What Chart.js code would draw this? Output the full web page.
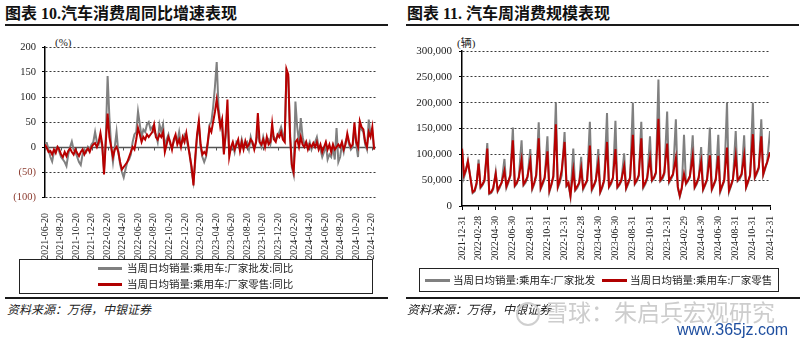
<!DOCTYPE html>
<html><head><meta charset="utf-8">
<script src="https://cdn.jsdelivr.net/npm/chart.js@4.4.1/dist/chart.umd.min.js"></script>
<style>
html,body{margin:0;padding:0;background:#fff;}
body{width:800px;height:341px;position:relative;overflow:hidden;}
.abs{position:absolute;white-space:nowrap;}
.title{font-family:"Liberation Serif","Noto Sans CJK SC",serif;font-weight:700;font-size:16px;color:#111;top:4px;line-height:20px;}
.rule{position:absolute;background:#1a1a1a;}
.legbox{position:absolute;border:1px solid #222;box-sizing:border-box;}
.legtxt{position:absolute;white-space:nowrap;font-family:"Noto Sans CJK SC",sans-serif;font-size:10.5px;color:#222;line-height:12px;}
.sw{position:absolute;height:3px;}
.src{position:absolute;white-space:nowrap;font-family:"Noto Sans CJK SC",sans-serif;font-style:italic;font-size:12px;color:#222;line-height:14px;}
.unit{position:absolute;white-space:nowrap;font-family:"Liberation Serif","Noto Sans CJK SC",serif;font-size:11px;color:#222;line-height:12px;}
canvas{position:absolute;}
</style></head><body>

<div class="abs title" style="left:5px;">图表 10.汽车消费周同比增速表现</div>
<div class="abs title" style="left:407px;">图表 11. 汽车周消费规模表现</div>
<div class="rule" style="left:5px;top:24px;width:383px;height:2px;"></div>
<div class="rule" style="left:406px;top:24px;width:393px;height:2px;"></div>
<div class="unit" style="left:55px;top:36px;">(%)</div>
<div class="unit" style="left:457px;top:37px;">(辆)</div>

<canvas id="c1" width="392" height="232" style="left:0px;top:30px;"></canvas>
<canvas id="c2" width="392" height="240" style="left:400px;top:30px;"></canvas>

<div class="legbox" style="left:19px;top:259px;width:354px;height:35px;"></div>
<div class="sw" style="left:98px;top:267px;width:24px;background:#808080;"></div>
<div class="legtxt" style="left:127px;top:262px;">当周日均销量:乘用车:厂家批发:同比</div>
<div class="sw" style="left:98px;top:283px;width:24px;background:#b00000;"></div>
<div class="legtxt" style="left:127px;top:278px;">当周日均销量:乘用车:厂家零售:同比</div>

<div class="legbox" style="left:419px;top:268px;width:360px;height:24px;"></div>
<div class="sw" style="left:425px;top:279px;width:25px;background:#808080;"></div>
<div class="legtxt" style="left:453px;top:274px;">当周日均销量:乘用车:厂家批发</div>
<div class="sw" style="left:602px;top:279px;width:25px;background:#b00000;"></div>
<div class="legtxt" style="left:630px;top:274px;">当周日均销量:乘用车:厂家零售</div>

<div class="rule" style="left:5px;top:297px;width:383px;height:1.5px;"></div>
<div class="rule" style="left:406px;top:297px;width:394px;height:1.5px;"></div>
<div class="src" style="left:7px;top:302px;">资料来源：万得，中银证券</div>
<div class="src" style="left:407px;top:302px;">资料来源：万得，中银证券</div>

<div class="abs" style="left:516px;top:302px;width:20px;height:20px;border:2px solid #cfcfcf;border-radius:50%;"></div>
<div class="abs" style="left:545px;top:297px;font-family:'Noto Sans CJK SC',sans-serif;font-size:23px;line-height:28px;color:#cdcdcd;">雪球：朱启兵宏观研究</div>
<div class="abs" style="left:677px;top:321px;font-family:'Liberation Sans',sans-serif;font-size:16px;line-height:18px;color:#1f4fa0;">www.365jz.com</div>

<script>
// ---------- Left chart: weekly YoY (%) ----------
const leftFirstWeek = '2021-06-20';   // weekly observations, 7 days apart
const leftRetailYoY = [
 5,-2,-10,-8,-15,-5,-12,0,-5,-15,
 -20,-10,-18,-8,-3,-10,-15,-5,-12,-18,
 -10,-5,-15,-8,-3,-10,0,5,8,0,
 10,28,5,-55,10,67,20,0,-20,-5,
 0,-10,-30,-45,-40,-35,-30,-20,-10,0,
 -5,15,38,25,10,20,15,25,20,25,
 30,45,20,15,25,20,30,-10,5,20,
 10,-5,15,25,5,15,0,20,10,28,
 5,-20,-40,-77,-20,25,52,5,-15,-10,
 -15,10,38,30,50,70,95,68,40,55,
 -15,30,95,-20,0,10,-5,5,15,-8,
 10,-5,12,0,5,15,10,-5,10,68,
 10,5,15,0,20,5,10,47,15,10,
 25,20,30,15,10,156,145,20,-35,-50,
 10,15,0,20,5,0,10,-5,5,0,
 8,0,10,-5,5,-10,0,10,-5,5,
 -10,5,-5,0,5,0,10,-5,5,27,
 10,0,5,49,10,0,52,40,35,10,
 0,30,20,40,-5];
const leftWholesaleYoY = [
 8,8,-5,-20,-29,-10,-5,0,-10,-20,
 -25,-30,-38,-15,0,11,-5,-10,-20,-30,
 -36,-15,-5,-10,0,-5,5,10,30,10,
 5,20,0,-45,20,142,60,0,-30,0,
 30,-10,-35,-50,-61,-45,-30,-25,-15,10,
 25,30,71,45,20,35,30,45,50,35,
 40,30,25,10,45,30,45,0,15,25,
 5,0,10,20,10,30,5,10,25,20,
 0,-15,-50,-70,-30,20,45,0,-20,-30,
 -20,5,45,50,80,120,170,80,50,40,
 -10,20,60,-10,-5,5,-10,10,5,-5,
 15,0,5,10,-5,20,5,0,10,30,
 10,0,20,5,10,15,5,25,20,15,
 20,30,40,25,15,150,140,30,-40,-55,
 91,40,10,58,20,5,10,0,10,-5,
 5,10,20,0,-5,-20,-10,5,-25,-15,
 -20,0,-25,38,-30,-20,5,-10,10,20,
 5,-5,0,40,5,-20,45,35,30,5,
 -5,55,25,30,-5];
const leftTickLabels = ['2021-06-20','2021-08-20','2021-10-20','2021-12-20','2022-02-20','2022-04-20',
 '2022-06-20','2022-08-20','2022-10-20','2022-12-20','2023-02-20','2023-04-20','2023-06-20',
 '2023-08-20','2023-10-20','2023-12-20','2024-02-20','2024-04-20','2024-06-20','2024-08-20',
 '2024-10-20','2024-12-20'];
const leftYTicks = [-100,-50,0,50,100,150,200];

// ---------- Right chart: weekly average daily volume (units) ----------
const rightFirstDate = '2021-12-31';
const rightYears = [2022, 2023, 2024];
const rightPeriodDays = [7, 14, 21, 'end'];   // four periods per month
const rightRetail = [
 111000,
 60000,70000,86000,50000,   27000,30000,45000,82000,   37000,42000,50000,111000,
 25000,27000,35000,62000,   30000,38000,45000,68000,   38000,48000,60000,127000,
 40000,45000,55000,89000,   42000,48000,57000,87000,   35000,45000,60000,131000,
 35000,45000,55000,106000,  30000,42000,58000,158000,  38000,50000,70000,124000,
 40000,45000,20000,69000,   32000,38000,45000,72000,   35000,42000,50000,117000,
 33000,40000,50000,83000,   28000,38000,50000,124000,  38000,45000,55000,110000,
 37000,42000,50000,77000,   35000,45000,55000,138000,  44000,50000,60000,131000,
 38000,45000,55000,93000,   50000,55000,65000,169000,  50000,55000,65000,121000,
 48000,55000,62000,93000,   37000,20000,35000,62000,   44000,50000,58000,97000,
 37000,45000,55000,85000,   33000,42000,52000,98000,   33000,42000,52000,97000,
 30000,40000,50000,113000,  30000,40000,52000,97000,   50000,55000,62000,97000,
 37000,48000,60000,139000,  56000,65000,75000,135000,  62000,75000,85000,104000];
const rightWholesale = [
 115000,
 55000,68000,88000,52000,   25000,28000,42000,90000,   35000,40000,48000,122000,
 23000,25000,32000,66000,   28000,35000,45000,91000,   35000,45000,58000,152000,
 38000,43000,55000,127000,  40000,45000,55000,110000,  32000,42000,58000,162000,
 33000,42000,52000,135000,  27000,40000,55000,200000,  35000,45000,60000,143000,
 38000,42000,18000,111000,  30000,35000,43000,95000,   32000,40000,48000,163000,
 30000,38000,48000,110000,  26000,35000,48000,180000,  36000,42000,52000,165000,
 35000,40000,48000,102000,  33000,42000,52000,200000,  42000,48000,58000,163000,
 35000,42000,52000,135000,  48000,53000,63000,245000,  48000,52000,62000,183000,
 45000,52000,60000,168000,  35000,18000,33000,138000,  42000,48000,55000,137000,
 35000,42000,52000,114000,  31000,40000,50000,152000,  31000,40000,50000,138000,
 27000,38000,48000,200000,  27000,38000,50000,145000,  48000,52000,60000,137000,
 35000,45000,58000,200000,  54000,62000,72000,168000,  60000,72000,85000,145000];
const rightTickLabels = ['2021-12-31','2022-02-28','2022-04-30','2022-06-30','2022-08-31','2022-10-31',
 '2022-12-31','2023-02-28','2023-04-30','2023-06-30','2023-08-31','2023-10-31','2023-12-31',
 '2024-02-29','2024-04-30','2024-06-30','2024-08-31','2024-10-31','2024-12-31'];

// ---------- helpers ----------
const DAY = 864e5;
const dayNum = s => { const [y,m,d] = s.split('-').map(Number); return Date.UTC(y, m-1, d) / DAY; };
const fmtDay = n => new Date(Math.round(n) * DAY).toISOString().slice(0, 10);

const leftX = leftRetailYoY.map((_, i) => dayNum(leftFirstWeek) + 7 * i);
const rightX = [dayNum(rightFirstDate)];
rightYears.forEach(y => {
  for (let m = 1; m <= 12; m++) {
    rightPeriodDays.forEach(p => {
      const d = p === 'end' ? new Date(Date.UTC(y, m, 0)).getUTCDate() : p;
      rightX.push(Date.UTC(y, m - 1, d) / DAY);
    });
  }
});

const RED = '#b80000', GRAY = '#808080';
const serif = 'Liberation Serif';

const zeroAxis = {
  id: 'zeroAxis',
  beforeDatasetsDraw(chart) {
    const {ctx, chartArea: a, scales: {x, y}} = chart;
    const py = Math.round(y.getPixelForValue(0)) + 0.5;
    ctx.save();
    ctx.strokeStyle = '#555'; ctx.lineWidth = 1.5;
    ctx.beginPath(); ctx.moveTo(a.left, py); ctx.lineTo(a.right, py); ctx.stroke();
    ctx.lineWidth = 1; ctx.beginPath();
    x.ticks.forEach(t => { const px = Math.round(x.getPixelForValue(t.value)) + 0.5; ctx.moveTo(px, py); ctx.lineTo(px, py + 3); });
    ctx.stroke();
    ctx.restore();
  }
};

new Chart(document.getElementById('c1'), {
  type: 'line',
  data: { datasets: [
    { label: '当周日均销量:乘用车:厂家零售:同比', data: leftX.map((x, i) => ({x, y: leftRetailYoY[i]})),
      borderColor: RED, borderWidth: 2, pointRadius: 0, tension: 0, order: 1 },
    { label: '当周日均销量:乘用车:厂家批发:同比', data: leftX.map((x, i) => ({x, y: leftWholesaleYoY[i]})),
      borderColor: GRAY, borderWidth: 2, pointRadius: 0, tension: 0, order: 2 }
  ]},
  options: {
    responsive: false, animation: false, devicePixelRatio: 1,
    layout: { padding: { top: 17, right: 15, left: 0, bottom: 0 } },
    plugins: { legend: { display: false }, tooltip: { enabled: false } },
    scales: {
      x: { type: 'linear', min: dayNum(leftFirstWeek), max: dayNum(leftFirstWeek) + 1295,
        afterBuildTicks: s => { s.ticks = leftTickLabels.map(t => ({ value: dayNum(t) })); },
        afterFit: s => { s.height = 65; },
        grid: { display: false }, border: { display: false },
        ticks: { autoSkip: false, minRotation: 90, maxRotation: 90, padding: 8,
          font: { family: serif, size: 10 }, color: '#222', callback: v => fmtDay(v) } },
      y: { min: -100, max: 200,
        afterBuildTicks: s => { s.ticks = leftYTicks.map(v => ({ value: v })); },
        afterFit: s => { s.width = 45; },
        grid: { color: c => (c.tick && c.tick.value === 0) ? 'rgba(0,0,0,0)' : '#3a3a3a', lineWidth: 1,
          drawTicks: true, tickLength: 3, tickColor: '#000' },
        border: { display: true, color: '#000', width: 1.5, dash: [2, 2] },
        ticks: { padding: 6, font: { family: serif, size: 10.5 },
          color: c => c.tick.value < 0 ? '#8b3a2e' : '#222',
          callback: v => v < 0 ? '(' + (-v) + ')' : String(v) } }
    }
  },
  plugins: [zeroAxis]
});

new Chart(document.getElementById('c2'), {
  type: 'line',
  data: { datasets: [
    { label: '当周日均销量:乘用车:厂家零售', data: rightX.map((x, i) => ({x, y: rightRetail[i]})),
      borderColor: RED, borderWidth: 2, pointRadius: 0, tension: 0, order: 1 },
    { label: '当周日均销量:乘用车:厂家批发', data: rightX.map((x, i) => ({x, y: rightWholesale[i]})),
      borderColor: GRAY, borderWidth: 2, pointRadius: 0, tension: 0, order: 2 }
  ]},
  options: {
    responsive: false, animation: false, devicePixelRatio: 1,
    layout: { padding: { top: 21, right: 22, left: 0, bottom: 0 } },
    plugins: { legend: { display: false }, tooltip: { enabled: false } },
    scales: {
      x: { type: 'linear', min: dayNum(rightFirstDate), max: dayNum('2024-12-31'),
        afterBuildTicks: s => { s.ticks = rightTickLabels.map(t => ({ value: dayNum(t) })); },
        afterFit: s => { s.height = 64; },
        grid: { display: true, drawOnChartArea: false, drawTicks: true, tickLength: 4, tickColor: '#000' },
        border: { display: true, color: '#000', width: 1.5 },
        ticks: { autoSkip: false, minRotation: 90, maxRotation: 90, padding: 6,
          font: { family: serif, size: 9.5 }, color: '#222', callback: v => fmtDay(v) } },
      y: { min: 0, max: 300000,
        ticks: { stepSize: 50000, padding: 7, font: { family: serif, size: 11 }, color: '#222',
          callback: v => v.toLocaleString('en-US') },
        afterFit: s => { s.width = 62; },
        grid: { color: c => (c.tick && c.tick.value === 0) ? 'rgba(0,0,0,0)' : '#3a3a3a', lineWidth: 1,
          drawTicks: true, tickLength: 3, tickColor: '#000' },
        border: { display: true, color: '#000', width: 1.5, dash: [2, 2] } }
    }
  }
});
</script>
</body></html>
